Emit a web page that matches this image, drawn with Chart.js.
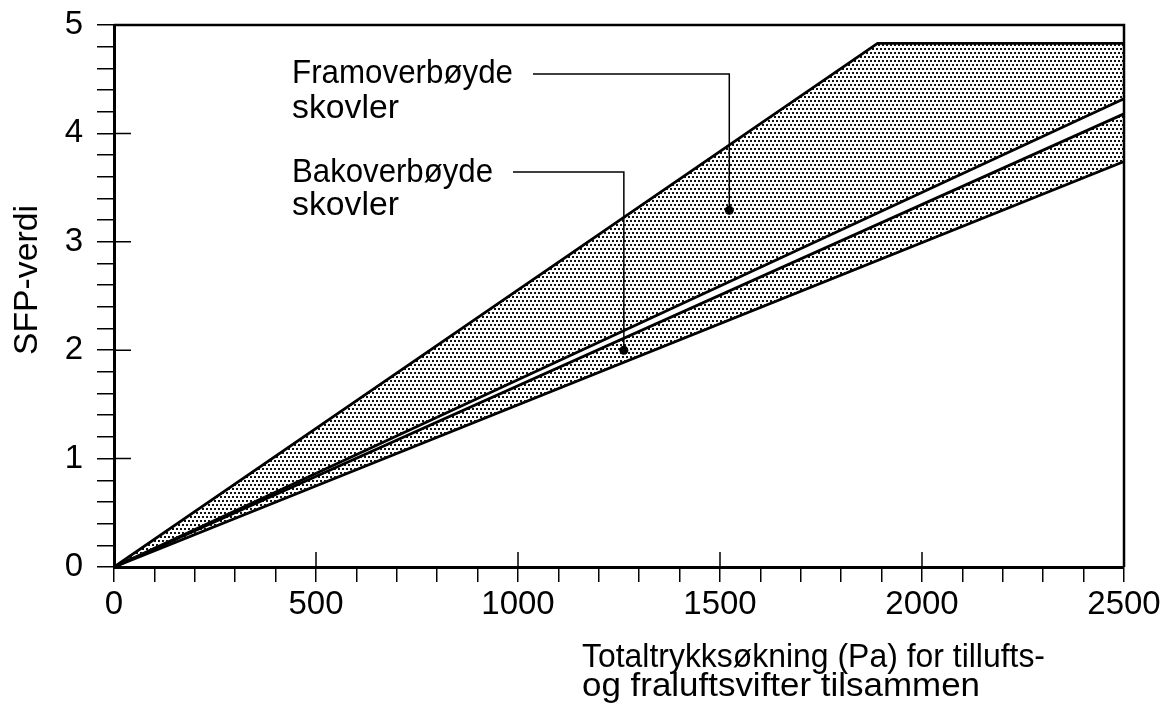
<!DOCTYPE html>
<html>
<head>
<meta charset="utf-8">
<script src="https://cdn.jsdelivr.net/npm/chart.js@4"></script>
<style>
  html, body { margin: 0; padding: 0; background: #fff; }
  canvas { display: block; }
</style>
</head>
<body>
<canvas id="chart" width="1164" height="704"></canvas>
<script>
// SFP-verdi vs totaltrykksøkning
const framUpperX = [0, 1890, 2500];
const framUpperY = [0, 4.83, 4.83];
const framLowerX = [0, 2500];
const framLowerY = [0, 4.32];
const bakUpperX = [0, 2500];
const bakUpperY = [0, 4.18];
const bakLowerX = [0, 2500];
const bakLowerY = [0, 3.74];

const xTitle = ['Totaltrykksøkning (Pa) for tillufts-', 'og fraluftsvifter tilsammen'];
const yTitle = 'SFP-verdi';
const noteLabels = [['Framoverbøyde', 'skovler'], ['Bakoverbøyde', 'skovler']];
const notePoints = [[1523, 3.29], [1262, 2.0]];

const FONT = '"Liberation Sans Narrow", "Liberation Sans", Arial, sans-serif';

function pts(xs, ys) {
  return xs.map((x, i) => ({ x: x, y: ys[i] }));
}

// stipple pattern for the shaded bands
const pc = document.createElement('canvas');
pc.width = 8; pc.height = 8;
const pctx = pc.getContext('2d');
pctx.fillStyle = '#111';
pctx.fillRect(0, 0, 2, 2);
pctx.fillRect(4, 0, 2, 2);
pctx.fillRect(2, 4, 2, 2);
pctx.fillRect(6, 4, 2, 2);
const stipple = document.getElementById('chart').getContext('2d').createPattern(pc, 'repeat');

// draws text squeezed/stretched to a given width
function fitText(ctx, str, x, y, w) {
  const m = ctx.measureText(str).width;
  ctx.save();
  ctx.translate(x, y);
  ctx.scale(w / m, 1);
  ctx.fillText(str, 0, 0);
  ctx.restore();
}

const extras = {
  id: 'extras',
  afterDraw(chart) {
    const ctx = chart.ctx;
    const xs = chart.scales.x, ys = chart.scales.y;
    const a = chart.chartArea;
    ctx.save();
    ctx.strokeStyle = '#000';
    ctx.fillStyle = '#000';

    // frame: top and right
    ctx.lineWidth = 2.5;
    ctx.beginPath();
    ctx.moveTo(a.left, a.top);
    ctx.lineTo(a.right, a.top);
    ctx.lineTo(a.right, a.bottom);
    ctx.stroke();

    // major ticks reaching into the plot
    ctx.lineWidth = 1.5;
    ctx.beginPath();
    for (let v = 1; v <= 4; v++) {
      const py = ys.getPixelForValue(v);
      ctx.moveTo(a.left, py);
      ctx.lineTo(a.left + 17, py);
    }
    for (let v = 500; v <= 2000; v += 500) {
      const px = xs.getPixelForValue(v);
      ctx.moveTo(px, a.bottom);
      ctx.lineTo(px, a.bottom - 15);
    }
    ctx.stroke();

    // labels with leader lines
    ctx.font = '34px ' + FONT;
    ctx.textAlign = 'left';
    ctx.textBaseline = 'alphabetic';
    const layout = [
      { x: 292, base: [83, 118], w: [221, 107], lead: [533, 74] },
      { x: 292, base: [182, 215], w: [201, 107], lead: [513, 172] }
    ];
    noteLabels.forEach((lines, i) => {
      const L = layout[i];
      lines.forEach((s, j) => fitText(ctx, s, L.x, L.base[j], L.w[j]));
      const dx = xs.getPixelForValue(notePoints[i][0]);
      const dy = ys.getPixelForValue(notePoints[i][1]);
      ctx.lineWidth = 1.5;
      ctx.beginPath();
      ctx.moveTo(L.lead[0], L.lead[1]);
      ctx.lineTo(dx, L.lead[1]);
      ctx.lineTo(dx, dy);
      ctx.stroke();
      ctx.beginPath();
      ctx.arc(dx, dy, 4.5, 0, Math.PI * 2);
      ctx.fill();
    });

    // axis titles
    fitText(ctx, xTitle[0], 582, 667, 463);
    fitText(ctx, xTitle[1], 582, 696, 398);
    ctx.save();
    ctx.translate(37, 355);
    ctx.rotate(-Math.PI / 2);
    fitText(ctx, yTitle, 0, 0, 150);
    ctx.restore();

    ctx.restore();
  }
};

const lineStyle = {
  borderColor: '#000',
  borderWidth: 2.8,
  pointRadius: 0,
  tension: 0,
  backgroundColor: stipple
};

new Chart(document.getElementById('chart'), {
  type: 'line',
  data: {
    datasets: [
      Object.assign({ data: pts(framUpperX, framUpperY), fill: { target: 1 } }, lineStyle),
      Object.assign({ data: pts(framLowerX, framLowerY), fill: false }, lineStyle),
      Object.assign({ data: pts(bakUpperX, bakUpperY), fill: { target: 3 } }, lineStyle),
      Object.assign({ data: pts(bakLowerX, bakLowerY), fill: false }, lineStyle)
    ]
  },
  options: {
    responsive: false,
    animation: false,
    devicePixelRatio: 1,
    layout: { padding: { left: 0, top: 25, right: 40, bottom: 0 } },
    plugins: { legend: { display: false }, tooltip: { enabled: false } },
    scales: {
      x: {
        type: 'linear',
        min: 0,
        max: 2500,
        afterFit(s) { s.height = 137; s.paddingLeft = 0; s.paddingRight = 0; },
        ticks: {
          stepSize: 100,
          autoSkip: false,
          maxRotation: 0,
          padding: 3,
          color: '#000',
          font: { family: FONT, size: 33 },
          callback: v => (v % 500 === 0 ? String(v) : '')
        },
        grid: { drawOnChartArea: false, tickLength: 15, color: '#000', lineWidth: 1.5 },
        border: { display: true, color: '#000', width: 3 }
      },
      y: {
        min: 0,
        max: 5,
        afterFit(s) { s.width = 114; s.paddingTop = 0; s.paddingBottom = 0; },
        ticks: {
          stepSize: 0.2,
          autoSkip: false,
          padding: 14,
          color: '#000',
          font: { family: FONT, size: 33 },
          callback: v => (Math.abs(v - Math.round(v)) < 1e-6 ? String(Math.round(v)) : '')
        },
        grid: { drawOnChartArea: false, tickLength: 17, color: '#000', lineWidth: 1.5 },
        border: { display: true, color: '#000', width: 3 }
      }
    }
  },
  plugins: [extras]
});
</script>
</body>
</html>
